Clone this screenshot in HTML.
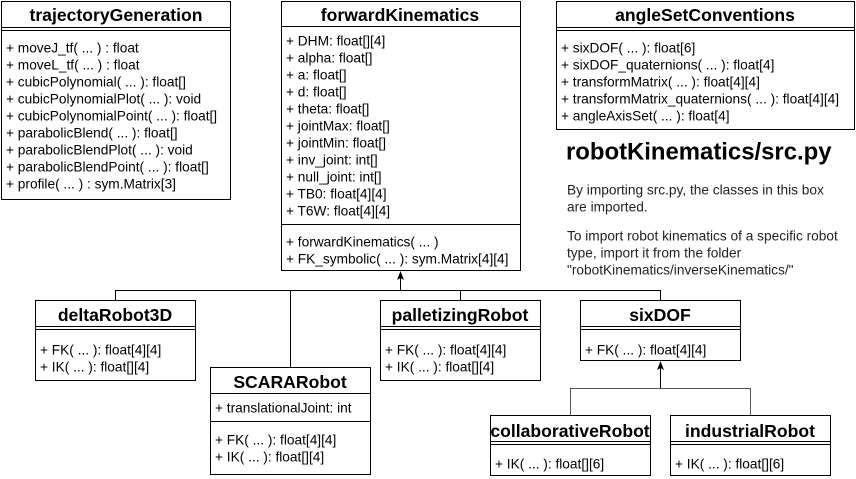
<!DOCTYPE html>
<html><head><meta charset="utf-8"><style>
html,body{margin:0;padding:0;background:#fff}
svg{display:block}
text{font-family:"Liberation Sans",Arial,sans-serif;font-size:13.7px;fill:#000;dominant-baseline:central}
.t{font-size:17.6px;font-weight:bold;text-anchor:middle}
.p{fill:#222}
</style></head><body>
<svg width="856" height="479" viewBox="0 0 856 479" xmlns="http://www.w3.org/2000/svg">
<g fill="#fff" stroke="#000" stroke-width="1">
<rect x="1.5" y="1.5" width="229" height="198"/>
<line x1="1.5" y1="27.5" x2="230.5" y2="27.5"/><line x1="1.5" y1="30.5" x2="230.5" y2="30.5"/>
<rect x="281.5" y="1.5" width="239" height="269"/>
<line x1="281.5" y1="26.5" x2="520.5" y2="26.5"/><line x1="281.5" y1="224.5" x2="520.5" y2="224.5"/>
<rect x="556.5" y="1.5" width="298" height="128"/>
<line x1="556.5" y1="27.5" x2="854.5" y2="27.5"/><line x1="556.5" y1="30.5" x2="854.5" y2="30.5"/>
<rect x="35.5" y="300.5" width="160" height="80"/>
<line x1="35.5" y1="326.5" x2="195.5" y2="326.5"/><line x1="35.5" y1="329.5" x2="195.5" y2="329.5"/>
<rect x="210.5" y="367.5" width="160" height="107"/>
<line x1="210.5" y1="393.5" x2="370.5" y2="393.5"/><line x1="210.5" y1="421.5" x2="370.5" y2="421.5"/>
<rect x="380.5" y="300.5" width="160" height="80"/>
<line x1="380.5" y1="326.5" x2="540.5" y2="326.5"/><line x1="380.5" y1="329.5" x2="540.5" y2="329.5"/>
<rect x="580.5" y="300.5" width="160" height="60"/>
<line x1="580.5" y1="326.5" x2="740.5" y2="326.5"/><line x1="580.5" y1="329.5" x2="740.5" y2="329.5"/>
<rect x="490.5" y="415.5" width="160" height="60"/>
<line x1="490.5" y1="441.5" x2="650.5" y2="441.5"/><line x1="490.5" y1="444.5" x2="650.5" y2="444.5"/>
<rect x="670.5" y="415.5" width="160" height="60"/>
<line x1="670.5" y1="441.5" x2="830.5" y2="441.5"/><line x1="670.5" y1="444.5" x2="830.5" y2="444.5"/>
</g>
<g fill="none" stroke="#000">
<polyline points="115.5,300 115.5,290.5 660.5,290.5 660.5,300"/>
<line x1="290.5" y1="290.5" x2="290.5" y2="367"/>
<line x1="460.5" y1="290.5" x2="460.5" y2="300"/>
<line x1="400.5" y1="290.5" x2="400.5" y2="276"/>
<line x1="660.5" y1="388" x2="660.5" y2="366"/>
<polyline points="570.5,415 570.5,388.5 750.5,388.5 750.5,415" stroke="#555"/>
</g>
<path d="M400.5 271 L397 280 L400.5 278 L404 280 Z" fill="#000"/>
<path d="M660.5 361 L657 370 L660.5 368 L664 370 Z" fill="#000"/>

<text class="t" x="116" y="15">trajectoryGeneration</text>
<text x="6" y="48">+ moveJ_tf( ... ) : float</text>
<text x="6" y="65">+ moveL_tf( ... ) : float</text>
<text x="6" y="82">+ cubicPolynomial( ... ): float[]</text>
<text x="6" y="99">+ cubicPolynomialPlot( ... ): void</text>
<text x="6" y="116">+ cubicPolynomialPoint( ... ): float[]</text>
<text x="6" y="133">+ parabolicBlend( ... ): float[]</text>
<text x="6" y="150">+ parabolicBlendPlot( ... ): void</text>
<text x="6" y="167">+ parabolicBlendPoint( ... ): float[]</text>
<text x="6" y="184">+ profile( ... ) : sym.Matrix[3]</text>

<text class="t" x="400" y="15">forwardKinematics</text>
<text x="286" y="41">+ DHM: float[][4]</text>
<text x="286" y="58">+ alpha: float[]</text>
<text x="286" y="75">+ a: float[]</text>
<text x="286" y="92">+ d: float[]</text>
<text x="286" y="109">+ theta: float[]</text>
<text x="286" y="126">+ jointMax: float[]</text>
<text x="286" y="143">+ jointMin: float[]</text>
<text x="286" y="160">+ inv_joint: int[]</text>
<text x="286" y="177">+ null_joint: int[]</text>
<text x="286" y="194">+ TB0: float[4][4]</text>
<text x="286" y="211">+ T6W: float[4][4]</text>
<text x="286" y="242">+ forwardKinematics( ... )</text>
<text x="286" y="259">+ FK_symbolic( ... ): sym.Matrix[4][4]</text>

<text class="t" x="705" y="15">angleSetConventions</text>
<text x="561" y="48">+ sixDOF( ... ): float[6]</text>
<text x="561" y="65">+ sixDOF_quaternions( ... ): float[4]</text>
<text x="561" y="82">+ transformMatrix( ... ): float[4][4]</text>
<text x="561" y="99">+ transformMatrix_quaternions( ... ): float[4][4]</text>
<text x="561" y="116">+ angleAxisSet( ... ): float[4]</text>

<text x="566" y="152" style="font-size:23.9px;font-weight:bold">robotKinematics/src.py</text>
<text class="p" x="567" y="190">By importing src.py, the classes in this box</text>
<text class="p" x="567" y="207">are imported.</text>
<text class="p" x="567" y="236">To import robot kinematics of a specific robot</text>
<text class="p" x="567" y="253">type, import it from the folder</text>
<text class="p" x="567" y="270">"robotKinematics/inverseKinematics/"</text>

<text class="t" x="115" y="315">deltaRobot3D</text>
<text x="40" y="350">+ FK( ... ): float[4][4]</text>
<text x="40" y="367">+ IK( ... ): float[][4]</text>

<text class="t" x="290" y="382">SCARARobot</text>
<text x="215" y="408">+ translationalJoint: int</text>
<text x="215" y="440">+ FK( ... ): float[4][4]</text>
<text x="215" y="457">+ IK( ... ): float[][4]</text>

<text class="t" x="460" y="315">palletizingRobot</text>
<text x="385" y="350">+ FK( ... ): float[4][4]</text>
<text x="385" y="367">+ IK( ... ): float[][4]</text>

<text class="t" x="660" y="315">sixDOF</text>
<text x="585" y="350">+ FK( ... ): float[4][4]</text>

<text class="t" x="570" y="431">collaborativeRobot</text>
<text x="495" y="464">+ IK( ... ): float[][6]</text>

<text class="t" x="750" y="431">industrialRobot</text>
<text x="675" y="464">+ IK( ... ): float[][6]</text>
</svg>
</body></html>
